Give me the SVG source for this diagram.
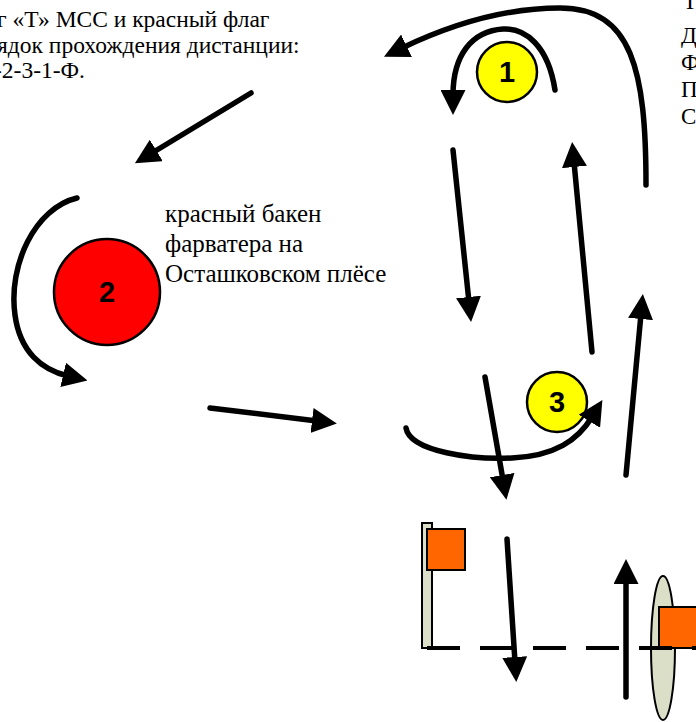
<svg xmlns="http://www.w3.org/2000/svg" width="696" height="722" viewBox="0 0 696 722">
<style>
.n{font-family:"Liberation Sans",Arial,sans-serif;font-weight:bold;font-size:29px;fill:#000;text-anchor:middle}
.c{fill:none;stroke:#000;stroke-width:5.5;stroke-linecap:round}
.b{stroke:#000;stroke-width:2.5}
.o{fill:#ff6600;stroke:#000;stroke-width:2}
.g{fill:#dcdfc8;stroke:#000;stroke-width:2}
</style>
<defs>
<marker id="ah" viewBox="0 0 10 10" refX="2" refY="5" markerUnits="userSpaceOnUse" markerWidth="25" markerHeight="25" orient="auto">
<path d="M0,0 L10,5 L0,10 Z" fill="#000"/>
</marker>
</defs>
<g id="text-top-left" font-family="'Liberation Serif', 'Times New Roman', serif" font-size="23.5" fill="#000">
<text x="-3" y="27">г «Т» МСС и красный флаг</text>
<text x="-3" y="53">ядок прохождения дистанции:</text>
<text x="-6" y="78">-2-3-1-Ф.</text>
</g>
<g id="text-top-right" font-family="'Liberation Serif', 'Times New Roman', serif" font-size="23" fill="#000">
<text x="683" y="9">Т</text>
<text x="681" y="43">Д</text>
<text x="681" y="70">Ф</text>
<text x="681" y="97">П</text>
<text x="681" y="124">С</text>
</g>
<g id="text-buoy" font-family="'Liberation Serif', 'Times New Roman', serif" font-size="25" fill="#000">
<text x="165" y="222">красный бакен</text>
<text x="165" y="252">фарватера на</text>
<text x="165" y="282">Осташковском плёсе</text>
</g>
<g id="node-1">
<circle cx="507" cy="72" r="30" fill="#ffff00" class="b"/>
<text class="n" x="507" y="82">1</text>
</g>
<g id="node-2">
<circle cx="107" cy="292" r="53" fill="#ff0000" class="b"/>
<text class="n" x="107" y="302">2</text>
</g>
<g id="node-3">
<circle cx="557" cy="402" r="30" fill="#ffff00" class="b"/>
<text class="n" x="557" y="412">3</text>
</g>
<g id="flag-start">
<rect x="422" y="523" width="10" height="125" class="g"/>
<rect x="427" y="529" width="38" height="41" class="o"/>
</g>
<g id="flag-finish">
<ellipse cx="663" cy="648" rx="12" ry="72" class="g"/>
<rect x="659" y="607" width="45" height="41" class="o"/>
</g>
<g id="connectors">
<line x1="427" y1="648" x2="696" y2="648" stroke="#000" stroke-width="4" stroke-dasharray="33 20"/>
<path class="c" d="M646,185 C646,70 632,8 560,8 C505,8 450,25 402,48" marker-end="url(#ah)"/>
<path class="c" d="M555,90 C548,45 525,28 503,29 C472,31 453,55 453,95" marker-end="url(#ah)"/>
<path class="c" d="M453,150 L469,302" marker-end="url(#ah)"/>
<path class="c" d="M592,352 L574,162" marker-end="url(#ah)"/>
<path class="c" d="M251,93 L152,153" marker-end="url(#ah)"/>
<path class="c" d="M77,198 C35,208 8,265 15,315 C20,352 42,370 68,376" marker-end="url(#ah)"/>
<path class="c" d="M210,408 L317,421" marker-end="url(#ah)"/>
<path class="c" d="M485,377 L503,480" marker-end="url(#ah)"/>
<path class="c" d="M406,428 C410,452 475,460 512,458 C555,456 578,440 592,417" marker-end="url(#ah)"/>
<path class="c" d="M626,475 L641,314" marker-end="url(#ah)"/>
<path class="c" d="M507,539 L515,662" marker-end="url(#ah)"/>
<path class="c" d="M626,697 L626,579" marker-end="url(#ah)"/>
</g>
</svg>
